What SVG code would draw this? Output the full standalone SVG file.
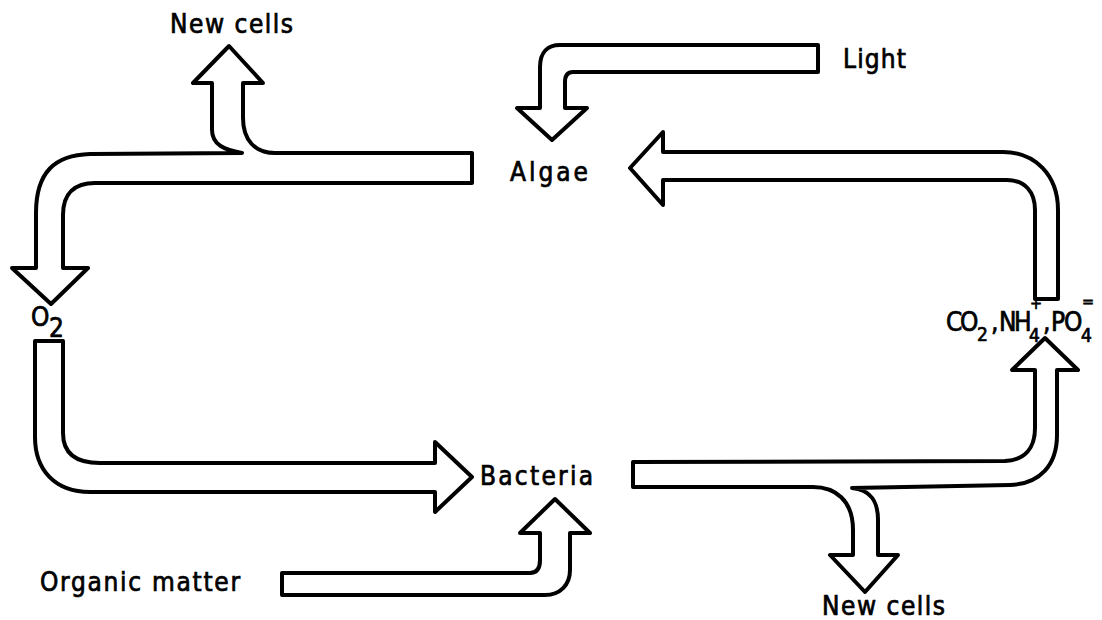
<svg xmlns="http://www.w3.org/2000/svg" width="1102" height="620" viewBox="0 0 1102 620">
<style>
.t{font-family:"DejaVu Sans Condensed","DejaVu Sans",sans-serif;font-size:26px;fill:#000;stroke:#000;stroke-width:0.7}
.a{fill:#fff;stroke:#000;stroke-width:4;stroke-linejoin:round;stroke-linecap:round}
</style>
<rect width="1102" height="620" fill="#fff"/>
<g id="connectors">
<path id="algae-to-o2" class="a" d="M472,153 L275,153 C255,153 243,140 243,118 L243,83 L263,83 L229,46 L193,83 L212,83 L212,130 C212,145 225,150 242,153 L90,154 C55,155 36,172 36,213 L36,268 L12,268 L51,304 L88,268 L63,268 L63,215 C63,193 75,183 95,183 L472,183 Z"/>
<path id="o2-to-bacteria" class="a" d="M35,341 L63,341 L63,433 C63,453 75,463 100,463 L435,463 L435,442 L472,477 L435,512 L435,492 L90,492 C55,492 35,470 35,437 Z"/>
<path id="organic-to-bacteria" class="a" d="M282,573 L530,573 C537,573 540,568 540,560 L540,533 L520,533 L555,499 L590,533 L570,533 L570,570 C570,585 560,595 545,595 L282,595 Z"/>
<path id="bacteria-to-nutrients" class="a" d="M633,462 L1005,461 C1025,460 1035,448 1035,428 L1035,370 L1012,370 L1045,338 L1078,370 L1057,370 L1057,435 C1057,465 1040,484 1010,485 L852,488 C870,490 878,500 878,520 L878,555 L898,555 L865,592 L830,555 L853,555 L853,530 C853,500 835,487 813,487 L633,487 Z"/>
<path id="nutrients-to-algae" class="a" d="M1035,299 L1058,299 L1058,210 C1058,175 1035,152 1003,152 L663,152 L663,132 L630,168 L663,205 L663,180 L1007,180 C1025,180 1035,192 1035,210 Z"/>
<path id="light-to-algae" class="a" d="M818,45 L818,72 L573,72 C567,72 565,76 565,82 L565,108 L587,108 L552,140 L517,108 L540,108 L540,67 C540,52 548,45 560,45 Z"/>
</g>
<g id="new-cells-top"><text class="t" x="170" y="33" textLength="123" lengthAdjust="spacing">New cells</text></g>
<g id="light"><text class="t" x="843" y="68" textLength="63" lengthAdjust="spacing">Light</text></g>
<g id="algae"><text class="t" x="510" y="181" textLength="78" lengthAdjust="spacing">Algae</text></g>
<g id="o2"><text class="t" font-size="22"><tspan x="31" y="326">O</tspan><tspan x="49" y="337">2</tspan></text></g>
<g id="bacteria"><text class="t" x="480" y="485" textLength="113" lengthAdjust="spacing">Bacteria</text></g>
<g id="organic-matter"><text class="t" x="40" y="591" textLength="200" lengthAdjust="spacing">Organic matter</text></g>
<g id="nutrients"><text class="t" font-size="21"><tspan x="946 960" y="331">CO</tspan><tspan x="977" y="341" font-size="19">2</tspan><tspan x="991 999 1014" y="331">,NH</tspan><tspan x="1029" y="342" font-size="19">4</tspan><tspan x="1030" y="309" font-size="16">+</tspan><tspan x="1043 1051 1064" y="331">,PO</tspan><tspan x="1081" y="342" font-size="19">4</tspan><tspan x="1082" y="307" font-size="16">=</tspan></text></g>
<g id="new-cells-bottom"><text class="t" x="822" y="615" textLength="123" lengthAdjust="spacing">New cells</text></g>
</svg>
